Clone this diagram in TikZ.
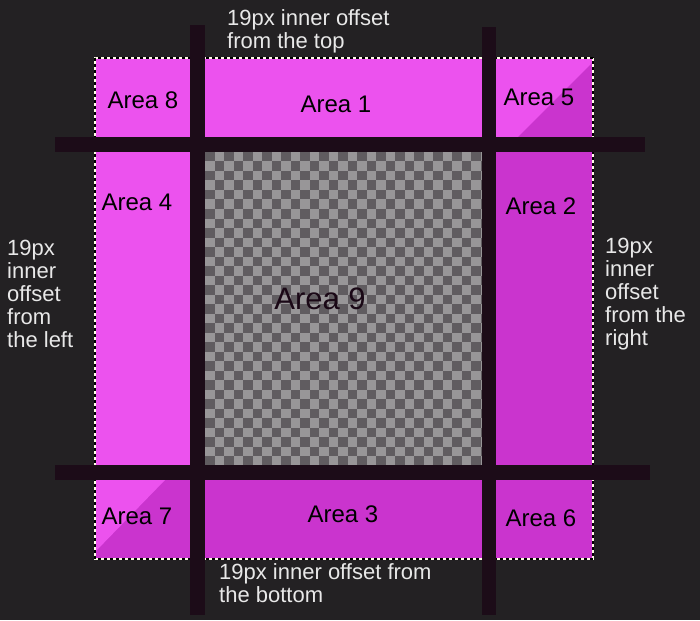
\documentclass[tikz,border=0pt]{standalone}
\usepackage{fontspec}
\setmainfont{Liberation Sans}
\definecolor{bgcol}{RGB}{35,33,35}
\definecolor{barcol}{RGB}{28,12,24}
\definecolor{arealight}{RGB}{236,82,238}
\definecolor{areadark}{RGB}{202,52,206}
\definecolor{checklight}{RGB}{152,150,152}
\definecolor{checkdark}{RGB}{96,92,96}
\definecolor{notecol}{RGB}{232,232,232}
\definecolor{bigcol}{RGB}{26,8,22}
\tikzset{
  note/.style={text=notecol, align=left, anchor=west, inner sep=0pt,
    font=\fontsize{22}{23}\selectfont},
  arealabel/.style={text=black, inner sep=0pt, font=\fontsize{24}{26}\selectfont},
  bar/.style={fill=barcol}
}
\begin{document}
\begin{tikzpicture}[x=1pt,y=-1pt]
  \fill[bgcol] (0,0) rectangle (700,620);
  \useasboundingbox (0,0) rectangle (700,620);
  \fill[arealight] (95,58) rectangle (593,152);
  \fill[arealight] (95,58) rectangle (205,480);
  \fill[areadark] (482,137) rectangle (593,480);
  \fill[areadark] (95,465) rectangle (593,559);
  \fill[arealight] (95,480) -- (165,480) -- (95,552) -- cycle;
  \fill[areadark] (518,137) -- (593,62) -- (593,137) -- cycle;
  \begin{scope}
    \clip (205,152) rectangle (482,465);
    \fill[checkdark] (205,152) rectangle (482,465);
    \foreach \i in {0,...,29}
      \foreach \j in {0,...,33} {
        \pgfmathtruncatemacro\odd{mod(\i+\j,2)}
        \ifnum\odd=1
          \fill[checklight] (205+\i*9.5,152+\j*9.5) rectangle ++(9.5,9.5);
        \fi
      }
  \end{scope}
  \draw[white!90!yellow, line width=1.6pt] (95,58) rectangle (593,559);
  \draw[black, line width=1.2pt, dash pattern=on 3pt off 3pt] (95,58) rectangle (593,559);
  \fill[bar] (190,25) rectangle (205,615);
  \fill[bar] (482,27) rectangle (496,615);
  \fill[bar] (55,137) rectangle (645,152);
  \fill[bar] (55,465) rectangle (650,480);
  \draw
    (143,100) node[arealabel] (area8) {Area 8}
    (336,104) node[arealabel] (area1) {Area 1}
    (539,97) node[arealabel] (area5) {Area 5}
    (137,202) node[arealabel] (area4) {Area 4}
    (541,206) node[arealabel] (area2) {Area 2}
    (320,299) node[arealabel, text=bigcol, font=\fontsize{31}{33}\selectfont] (area9) {Area 9}
    (137,516) node[arealabel] (area7) {Area 7}
    (343,514) node[arealabel] (area3) {Area 3}
    (541,518) node[arealabel] (area6) {Area 6};
  \draw
    (227,31) node[note] (notetop) {19px inner offset\\from the top}
    (7,294) node[note] (noteleft) {19px\\inner\\offset\\from\\the left}
    (605,294) node[note] (noteright) {19px\\inner\\offset\\from the\\right}
    (219,583.5) node[note] (notebottom) {19px inner offset from\\the bottom};
\end{tikzpicture}
\end{document}
